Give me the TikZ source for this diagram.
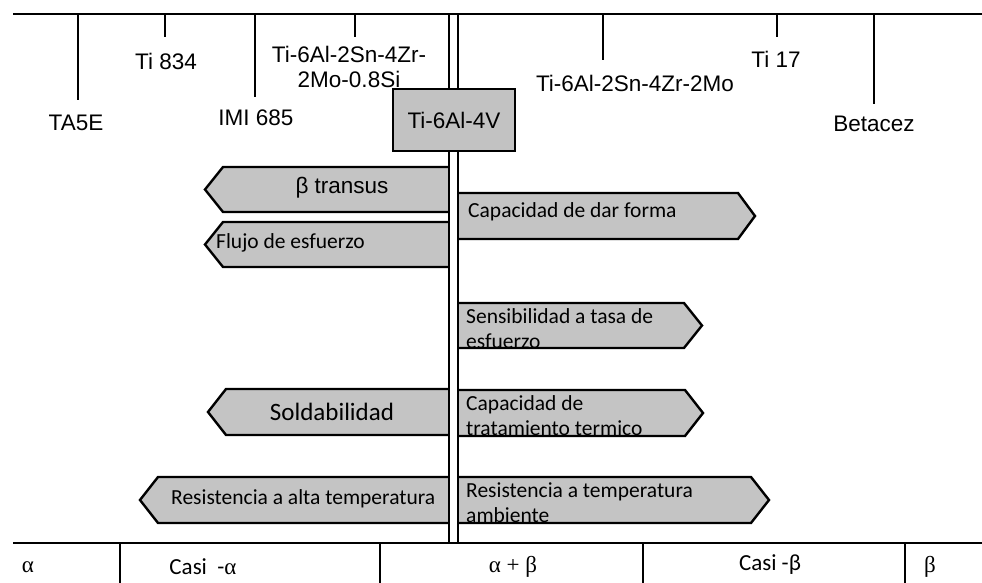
\documentclass[tikz,border=0pt]{standalone}
\usepackage{fontspec}
\setmainfont{Liberation Sans}
\newfontfamily\carlito{Carlito}
\newfontfamily\grk{Liberation Serif}

\begin{document}
\begin{tikzpicture}[x=1pt, y=-1pt,
  axis/.style={line width=2.2pt},
  tick/.style={line width=1.6pt},
  post/.style={draw=black, line width=2.4pt, fill=black!23, line join=miter},
  alloy/.style={font=\fontsize{22.5}{25}\selectfont},
  lbl/.style={font=\carlito\fontsize{21.5}{25}\selectfont, anchor=west, align=left, inner sep=0pt},
  phase/.style={font=\carlito\fontsize{23}{25}\selectfont},
  box/.style={draw=black, line width=2.4pt, fill=black!24, minimum width=122pt, minimum height=62pt}]
  \useasboundingbox (0,0) rectangle (982,583);
  % top scale
  \draw[axis] (13,14) -- (982,14);
  \foreach \x/\y in {78/100, 165/37, 255/97, 355/37, 603/60, 777/37, 874/104}
    \draw[tick] (\x,14) -- (\x,\y);
  \node[alloy](ta5e) at (76,123) {TA5E};
  \node[alloy](ti834) at (166,61) {Ti 834};
  \node[alloy](imi) at (256,118) {IMI 685};
  \node[alloy, align=center](si) at (349,67) {Ti-6Al-2Sn-4Zr-\\2Mo-0.8Si};
  \node[alloy](mo) at (635,83) {Ti-6Al-2Sn-4Zr-2Mo};
  \node[alloy](ti17) at (776,59) {Ti 17};
  \node[alloy](betacez) at (874,124) {Betacez};
  % signposts, left side
  \draw[post] (449,167) -- (223,167) -- (205,189.5) -- (223,212) -- (449,212);
  \draw[post] (449,222) -- (223,222) -- (205,244.5) -- (223,267) -- (449,267);
  \draw[post] (449,389) -- (226,389) -- (208,412) -- (226,435) -- (449,435);
  \draw[post] (449,477) -- (158,477) -- (140,500) -- (158,523) -- (449,523);
  % signposts, right side
  \draw[post] (458,193) -- (738,193) -- (755,216) -- (738,239) -- (458,239);
  \draw[post] (458,303) -- (684,303) -- (702,325.5) -- (684,348) -- (458,348);
  \draw[post] (458,390) -- (685,390) -- (703,413) -- (685,436) -- (458,436);
  \draw[post] (458,477) -- (751,477) -- (769,500) -- (751,523) -- (458,523);
  % the post
  \draw[tick] (449,14) -- (449,543);
  \draw[tick] (458,14) -- (458,543);
  \node[box, alloy](ti64) at (454,120) {Ti-6Al-4V};
  % texts on the signposts
  \node[font=\fontsize{22.5}{24}\selectfont](transus) at (342,188) {β transus};
  \node[lbl](flujo) at (216,243) {Flujo de esfuerzo};
  \node[font=\carlito\fontsize{25}{27}\selectfont](sold) at (332,412) {Soldabilidad};
  \node[lbl](alta) at (171,499) {Resistencia a alta temperatura};
  \node[lbl](forma) at (468,212) {Capacidad de dar forma};
  \node[lbl](sens) at (466,328.5) {Sensibilidad a tasa de\\esfuerzo};
  \node[lbl](trat) at (466,415.5) {Capacidad de\\tratamiento termico};
  \node[lbl](amb) at (466,503) {Resistencia a temperatura\\ambiente};
  % bottom scale
  \draw[axis] (13,543) -- (982,543);
  \foreach \x in {120, 380, 643, 905}
    \draw[tick] (\x,543) -- (\x,583);
  \node[phase](a) at (28,567) {\grk α};
  \node[phase](na) at (203,567) {Casi\ \ -{\grk α}};
  \node[phase](ab) at (513,567) {\grk α + β};
  \node[phase](nb) at (770,565) {Casi -β};
  \node[phase](b) at (930,567) {\grk β};
\end{tikzpicture}
\end{document}
